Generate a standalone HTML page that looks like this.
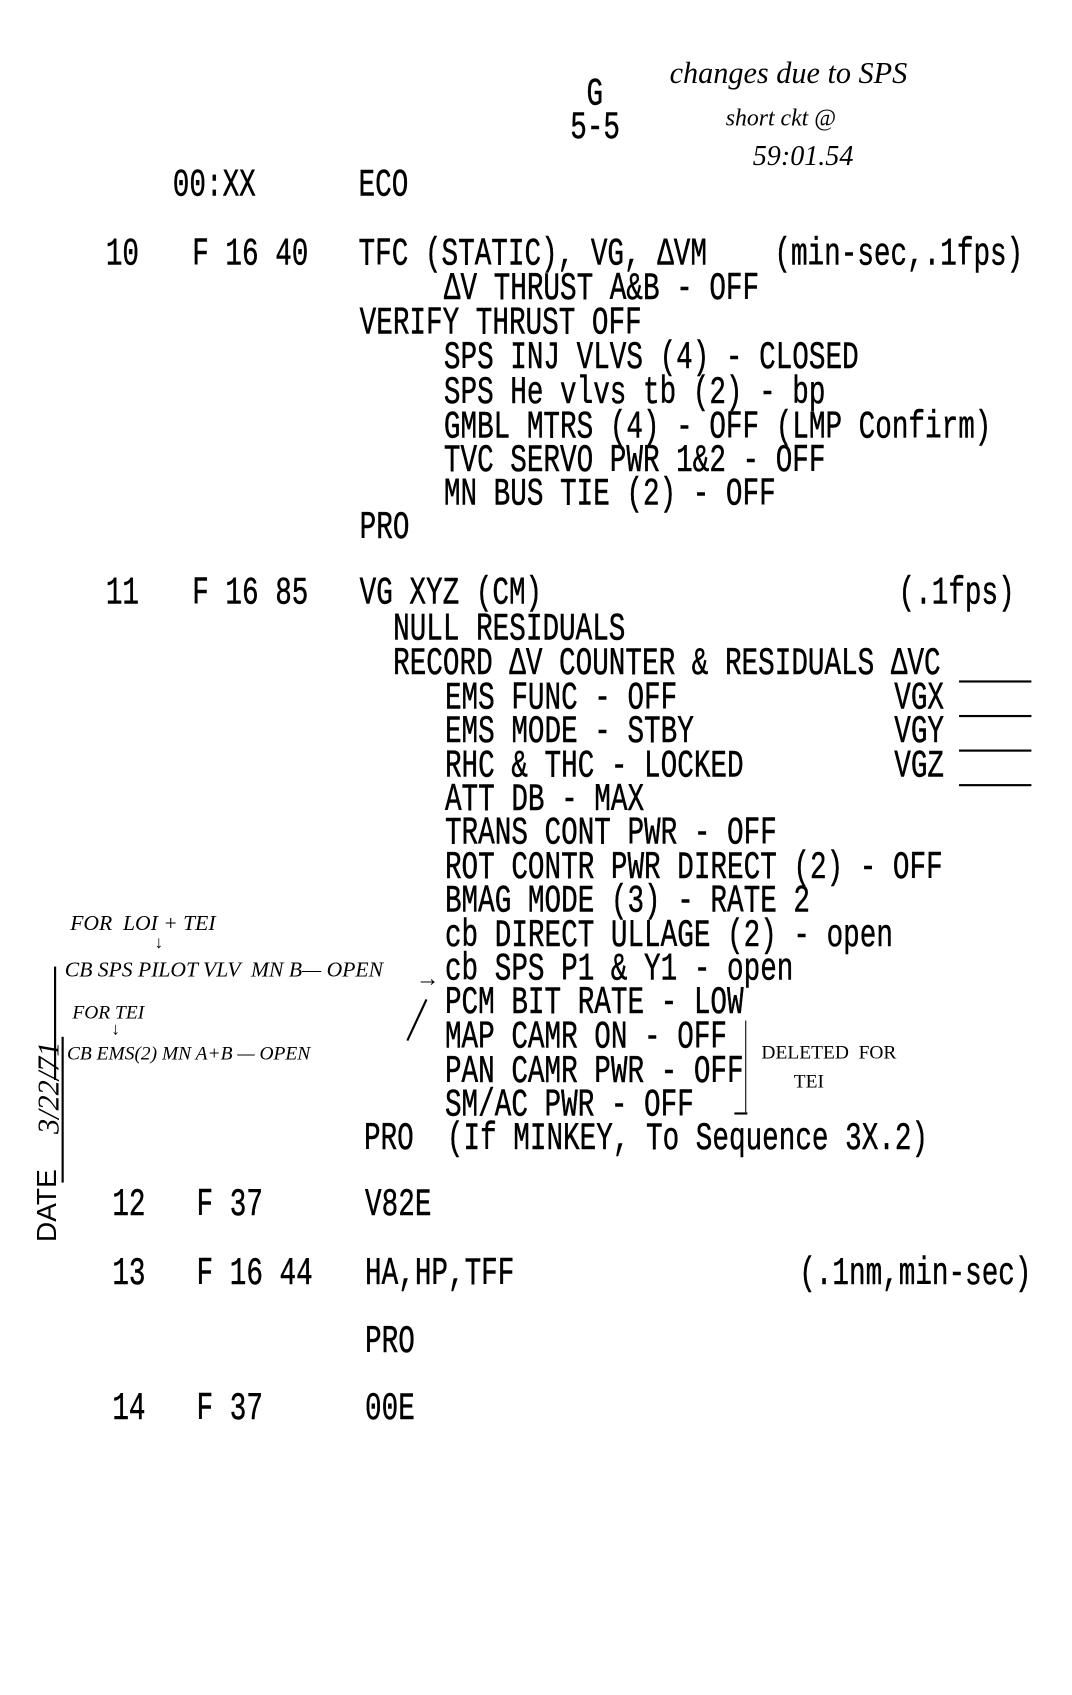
<!DOCTYPE html>
<html><head><meta charset="utf-8"><style>
html,body{margin:0;padding:0;background:#fff;width:1072px;height:1695px;overflow:hidden}
#c{position:absolute;left:0;top:0;width:993px;height:1569px;transform:scale(1.08);transform-origin:0 0}
.t{position:absolute;font-family:"Liberation Mono",monospace;font-size:32px;line-height:32px;white-space:pre;color:#000;transform:scale(0.8,1.12);transform-origin:0 50%;-webkit-text-stroke:0.4px #000}
.h{position:absolute;font-family:"Liberation Serif",serif;font-style:italic;white-space:pre;color:#000;line-height:1}
.l{position:absolute;background:#000}
</style></head><body><div id="c">
<div class="t" style="left:543px;top:72px">G</div>
<div class="t" style="left:528px;top:103px">5-5</div>
<div class="h" style="left:620px;top:55px;font-size:28px">changes due to SPS</div>
<div class="h" style="left:672px;top:98px;font-size:22px">short ckt @</div>
<div class="h" style="left:697px;top:132px;font-size:26px">59:01.54</div>

<div class="t" style="left:160px;top:156px">00:XX</div>
<div class="t" style="left:332px;top:156px">ECO</div>

<div class="t" style="left:98px;top:220px">10</div>
<div class="t" style="left:178px;top:220px">F 16 40</div>
<div class="t" style="left:332px;top:220px">TFC (STATIC), VG, ΔVM</div>
<div class="t" style="left:717px;top:220px">(min-sec,.1fps)</div>
<div class="t" style="left:411px;top:252px">ΔV THRUST A&amp;B - OFF</div>
<div class="t" style="left:333px;top:284px">VERIFY THRUST OFF</div>
<div class="t" style="left:411px;top:316px">SPS INJ VLVS (4) - CLOSED</div>
<div class="t" style="left:411px;top:348px">SPS He vlvs tb (2) - bp</div>
<div class="t" style="left:411px;top:380px">GMBL MTRS (4) - OFF (LMP Confirm)</div>
<div class="t" style="left:411px;top:411px">TVC SERVO PWR 1&amp;2 - OFF</div>
<div class="t" style="left:411px;top:442px">MN BUS TIE (2) - OFF</div>
<div class="t" style="left:333px;top:473px">PRO</div>

<div class="t" style="left:98px;top:534px">11</div>
<div class="t" style="left:178px;top:534px">F 16 85</div>
<div class="t" style="left:333px;top:534px">VG XYZ (CM)</div>
<div class="t" style="left:832px;top:534px">(.1fps)</div>
<div class="t" style="left:364px;top:567px">NULL RESIDUALS</div>
<div class="t" style="left:364px;top:599px">RECORD ΔV COUNTER &amp; RESIDUALS ΔVC</div>
<div class="t" style="left:412px;top:631px">EMS FUNC - OFF</div>
<div class="t" style="left:828px;top:631px">VGX</div>
<div class="t" style="left:412px;top:662px">EMS MODE - STBY</div>
<div class="t" style="left:828px;top:662px">VGY</div>
<div class="t" style="left:412px;top:694px">RHC &amp; THC - LOCKED</div>
<div class="t" style="left:828px;top:694px">VGZ</div>
<div class="l" style="left:888px;top:630px;width:67px;height:2px"></div>
<div class="l" style="left:888px;top:662px;width:67px;height:2px"></div>
<div class="l" style="left:888px;top:694px;width:67px;height:2px"></div>
<div class="l" style="left:888px;top:726px;width:67px;height:2px"></div>
<div class="t" style="left:412px;top:725px">ATT DB - MAX</div>
<div class="t" style="left:412px;top:756px">TRANS CONT PWR - OFF</div>
<div class="t" style="left:412px;top:788px">ROT CONTR PWR DIRECT (2) - OFF</div>
<div class="t" style="left:412px;top:819px">BMAG MODE (3) - RATE 2</div>
<div class="t" style="left:412px;top:851px">cb DIRECT ULLAGE (2) - open</div>
<div class="t" style="left:412px;top:882px">cb SPS P1 &amp; Y1 - open</div>
<div class="t" style="left:412px;top:913px">PCM BIT RATE - LOW</div>
<div class="t" style="left:412px;top:945px">MAP CAMR ON - OFF</div>
<div class="t" style="left:412px;top:977px">PAN CAMR PWR - OFF</div>
<div class="t" style="left:412px;top:1008px">SM/AC PWR - OFF</div>
<div class="l" style="left:690px;top:945px;width:1px;height:85px"></div>
<div class="l" style="left:680px;top:1030px;width:12px;height:2px"></div>
<div class="h" style="left:705px;top:965px;font-size:18px;font-style:normal">DELETED  FOR</div>
<div class="h" style="left:735px;top:992px;font-size:18px;font-style:normal">TEI</div>
<div class="t" style="left:337px;top:1039px">PRO  (If MINKEY, To Sequence 3X.2)</div>

<div class="h" style="left:65px;top:845px;font-size:20px">FOR  LOI + TEI</div>
<div class="h" style="left:143px;top:866px;font-size:16px">↓</div>
<div class="h" style="left:60px;top:888px;font-size:20px">CB SPS PILOT VLV  MN B— OPEN</div>
<div class="h" style="left:67px;top:928px;font-size:18px">FOR TEI</div>
<div class="h" style="left:103px;top:946px;font-size:16px">↓</div>
<div class="h" style="left:62px;top:966px;font-size:18px">CB EMS(2) MN A+B — OPEN</div>
<div class="h" style="left:385px;top:895px;font-size:22px">→</div>
<div class="l" style="left:394px;top:925px;width:2px;height:42px;transform:rotate(25deg);transform-origin:0 0"></div>
<div class="l" style="left:50px;top:895px;width:1.5px;height:105px"></div>

<div class="t" style="left:104px;top:1100px">12</div>
<div class="t" style="left:182px;top:1100px">F 37</div>
<div class="t" style="left:338px;top:1100px">V82E</div>
<div class="t" style="left:104px;top:1164px">13</div>
<div class="t" style="left:182px;top:1164px">F 16 44</div>
<div class="t" style="left:338px;top:1164px">HA,HP,TFF</div>
<div class="t" style="left:740px;top:1164px">(.1nm,min-sec)</div>
<div class="t" style="left:338px;top:1227px">PRO</div>
<div class="t" style="left:104px;top:1289px">14</div>
<div class="t" style="left:182px;top:1289px">F 37</div>
<div class="t" style="left:338px;top:1289px">00E</div>

<div style="position:absolute;left:30px;top:1150px;transform:rotate(-90deg);transform-origin:0 0;white-space:pre;font-family:'Liberation Sans',sans-serif;font-size:26px;line-height:26px">DATE</div>
<div class="l" style="left:57px;top:960px;width:1.5px;height:135px"></div>
<div class="h" style="left:32px;top:1050px;transform:rotate(-90deg);transform-origin:0 0;font-size:28px">3/22/71</div>
</div></body></html>
